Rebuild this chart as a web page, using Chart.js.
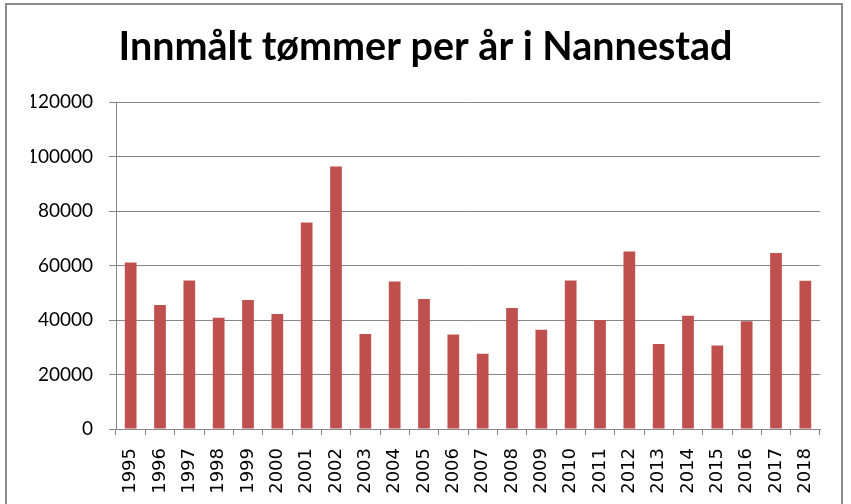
<!DOCTYPE html>
<html>
<head>
<meta charset="utf-8">
<script src="https://cdn.jsdelivr.net/npm/chart.js@4"></script>
<style>
  html, body { margin: 0; padding: 0; background: #fff; }
  #wrap { position: relative; width: 851px; height: 504px; overflow: hidden; }
  #ramme {
    position: absolute; left: 5px; top: 3px; width: 838px; height: 520px;
    border: 2px solid #8c8c8c; box-sizing: border-box;
  }
  #graf { position: absolute; left: 0; top: 0; }
</style>
</head>
<body>
<div id="wrap">
  <div id="ramme"></div>
  <canvas id="graf" width="851" height="504"></canvas>
</div>
<script>
// tømmer per år (m3), lest av figuren
const aar = ["1995", "1996", "1997", "1998", "1999", "2000", "2001", "2002",
  "2003", "2004", "2005", "2006", "2007", "2008", "2009", "2010", "2011",
  "2012", "2013", "2014", "2015", "2016", "2017", "2018"];
const tommer = [61100, 45500, 54500, 40800, 47300, 42200, 75800, 96300,
  34900, 54100, 47700, 34700, 27600, 44400, 36400, 54500, 40000,
  65100, 31200, 41600, 30600, 39500, 64600, 54400];
const tittel = "Innmålt tømmer per år i Nannestad";
const yMaks = 120000;
const ySteg = 20000;

const gridFarge = "#868686";

var ctx = document.getElementById("graf").getContext("2d");

let miGraf = new Chart(ctx, {
  type: "bar",
  data: {
    labels: aar,
    datasets: [
      {
        label: "Tømmer",
        data: tommer,
        backgroundColor: "#C0504D",
        borderWidth: 0,
        barPercentage: 0.4,
        categoryPercentage: 1.0,
      },
    ],
  },
  options: {
    responsive: false,
    animation: false,
    layout: {
      // venstre = høyre slik at tittelen blir midtstilt på hele flaten
      padding: { left: 31, right: 31, top: 0, bottom: 0 },
    },
    plugins: {
      legend: { display: false },
      tooltip: { enabled: false },
      title: {
        display: true,
        text: tittel,
        color: "#000",
        font: { family: "Lato", weight: "bold", size: 39.5 },
        padding: { top: 24, bottom: 30.6 },
      },
    },
    scales: {
      x: {
        grid: {
          display: true,
          offset: true,
          drawOnChartArea: false,
          drawTicks: true,
          tickLength: 6,
          color: gridFarge,
        },
        border: { display: true, color: gridFarge, width: 1 },
        ticks: {
          color: "#000",
          font: { family: "DejaVu Sans", size: 18 },
          minRotation: 90,
          maxRotation: 90,
          autoSkip: false,
          padding: 13,
        },
        afterFit: function (scale) {
          scale.height = 75;
        },
      },
      y: {
        min: 0,
        max: yMaks,
        grid: {
          color: gridFarge,
          drawTicks: true,
          tickLength: 7,
        },
        border: { display: true, color: gridFarge, width: 1 },
        ticks: {
          stepSize: ySteg,
          color: "#000",
          font: { family: "Lato", size: 19 },
          padding: 16,
          callback: function (v) {
            return String(v);
          },
        },
        afterFit: function (scale) {
          scale.width = 85;
        },
      },
    },
  },
});
</script>
</body>
</html>
